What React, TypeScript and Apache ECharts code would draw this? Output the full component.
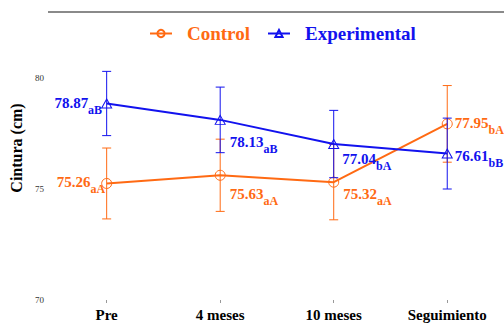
import React, { useEffect, useRef } from "react";
import * as echarts from "echarts";

// Waist circumference (cm) by assessment point
const timePoints = ["Pre", "4 meses", "10 meses", "Seguimiento"];
const controlMeans = [75.26, 75.63, 75.32, 77.95];
const controlErr = [1.6, 1.63, 1.7, 1.73];
const controlLetters = ["aA", "aA", "aA", "bA"];
const experimentalMeans = [78.87, 78.13, 77.04, 76.61];
const experimentalErr = [1.45, 1.48, 1.52, 1.6];
const experimentalLetters = ["aB", "aB", "bA", "bB"];
const yTicks = { min: 70, max: 83, interval: 5 };

// label placement per point: [position, distance, dx, dy]
const controlLabelPlace: [string, number, number, number][] = [
  ["left", -4, 0, -1],
  ["right", 0, 4, 19],
  ["right", 0, 4, 12],
  ["right", 0, 2, -1],
];
const experimentalLabelPlace: [string, number, number, number][] = [
  ["left", -1, 0, 0],
  ["right", 0, 4, 22],
  ["right", 0, 3, 15],
  ["right", 0, 2, 2],
];

const ORANGE = "#FF6A13";
const BLUE = "#1212EE";
const SERIF = "'Liberation Serif', 'Times New Roman', serif";

function lineSeries(
  name: string,
  means: number[],
  letters: string[],
  place: [string, number, number, number][],
  color: string,
  symbol: string,
  z: number
) {
  return {
    type: "line",
    name,
    z,
    symbol,
    symbolSize: symbol === "triangle" ? [10, 9] : 10,
    lineStyle: { color, width: 2 },
    itemStyle: { color: "rgba(0,0,0,0)", borderColor: color, borderWidth: 1 },
    data: means.map((v, i) => ({
      value: v,
      label: {
        show: true,
        position: place[i][0],
        distance: place[i][1],
        offset: [place[i][2], place[i][3]],
        formatter: () => `{v|${v.toFixed(2)}}{s|${letters[i]}}`,
        rich: {
          v: {
            fontSize: 15,
            fontWeight: "bold",
            fontFamily: SERIF,
            color,
            lineHeight: 15,
          },
          s: {
            fontSize: 12,
            fontWeight: "bold",
            fontFamily: SERIF,
            color,
            lineHeight: 12,
            padding: [14, 0, 0, 0],
          },
        },
      },
    })),
  };
}

function errorSeries(name: string, means: number[], errs: number[], color: string, z: number) {
  return {
    type: "custom",
    name,
    z,
    silent: true,
    encode: { x: 0, y: [1, 2] },
    data: means.map((m, i) => [i, m - errs[i], m + errs[i]]),
    renderItem: (_params: any, api: any) => {
      const i = api.value(0);
      const lo = api.coord([i, api.value(1)]);
      const hi = api.coord([i, api.value(2)]);
      const hw = 4.5;
      const style = { stroke: color, lineWidth: 1 };
      return {
        type: "group",
        children: [
          { type: "line", shape: { x1: lo[0], y1: lo[1], x2: hi[0], y2: hi[1] }, style },
          { type: "line", shape: { x1: hi[0] - hw, y1: hi[1], x2: hi[0] + hw, y2: hi[1] }, style },
          { type: "line", shape: { x1: lo[0] - hw, y1: lo[1], x2: lo[0] + hw, y2: lo[1] }, style },
        ],
      };
    },
  };
}

export default function App() {
  const ref = useRef<HTMLDivElement>(null);

  useEffect(() => {
    if (!ref.current) return;
    document.body.style.margin = "0";
    const chart = echarts.init(ref.current, null, { renderer: "svg" });
    chart.setOption({
      animation: false,
      backgroundColor: "#fff",
      grid: { left: 48, right: 0, top: 12, bottom: 25 },
      graphic: [
        {
          type: "line",
          shape: { x1: 48, y1: 12, x2: 504, y2: 12 },
          style: { stroke: "#8a8a8a", lineWidth: 2 },
          z: 10,
        },
      ],
      legend: {
        left: 144,
        top: 19,
        itemWidth: 22,
        itemHeight: 9,
        itemGap: 17,
        data: [
          { name: "Control", textStyle: { color: ORANGE } },
          { name: "Experimental", textStyle: { color: BLUE } },
        ],
        textStyle: {
          fontSize: 19,
          fontWeight: "bold",
          fontFamily: SERIF,
          padding: [0, 0, 0, 10],
        },
      },
      xAxis: {
        type: "category",
        data: timePoints,
        boundaryGap: true,
        axisLine: { show: false },
        axisTick: { show: true, alignWithLabel: true, length: 3, lineStyle: { color: "#999" } },
        axisLabel: {
          margin: 7,
          fontSize: 15,
          fontWeight: "bold",
          fontFamily: SERIF,
          color: "#000",
        },
        splitLine: { show: false },
      },
      yAxis: {
        type: "value",
        min: yTicks.min,
        max: yTicks.max,
        interval: yTicks.interval,
        name: "Cintura (cm)",
        nameLocation: "middle",
        nameGap: 23,
        nameTextStyle: {
          fontSize: 16,
          fontWeight: "bold",
          fontFamily: SERIF,
          color: "#000",
          padding: [0, 0, 0, 16],
        },
        axisLine: { show: false },
        axisTick: { show: false },
        splitLine: { show: false },
        axisLabel: {
          showMaxLabel: false,
          margin: 6,
          fontSize: 9,
          fontFamily: SERIF,
          color: "#333",
        },
      },
      series: [
        lineSeries("Control", controlMeans, controlLetters, controlLabelPlace, ORANGE, "circle", 2),
        errorSeries("Control error", controlMeans, controlErr, ORANGE, 3),
        lineSeries("Experimental", experimentalMeans, experimentalLetters, experimentalLabelPlace, BLUE, "triangle", 4),
        errorSeries("Experimental error", experimentalMeans, experimentalErr, BLUE, 5),
      ],
    });
    return () => chart.dispose();
  }, []);

  return <div ref={ref} style={{ width: 504, height: 325 }} />;
}
